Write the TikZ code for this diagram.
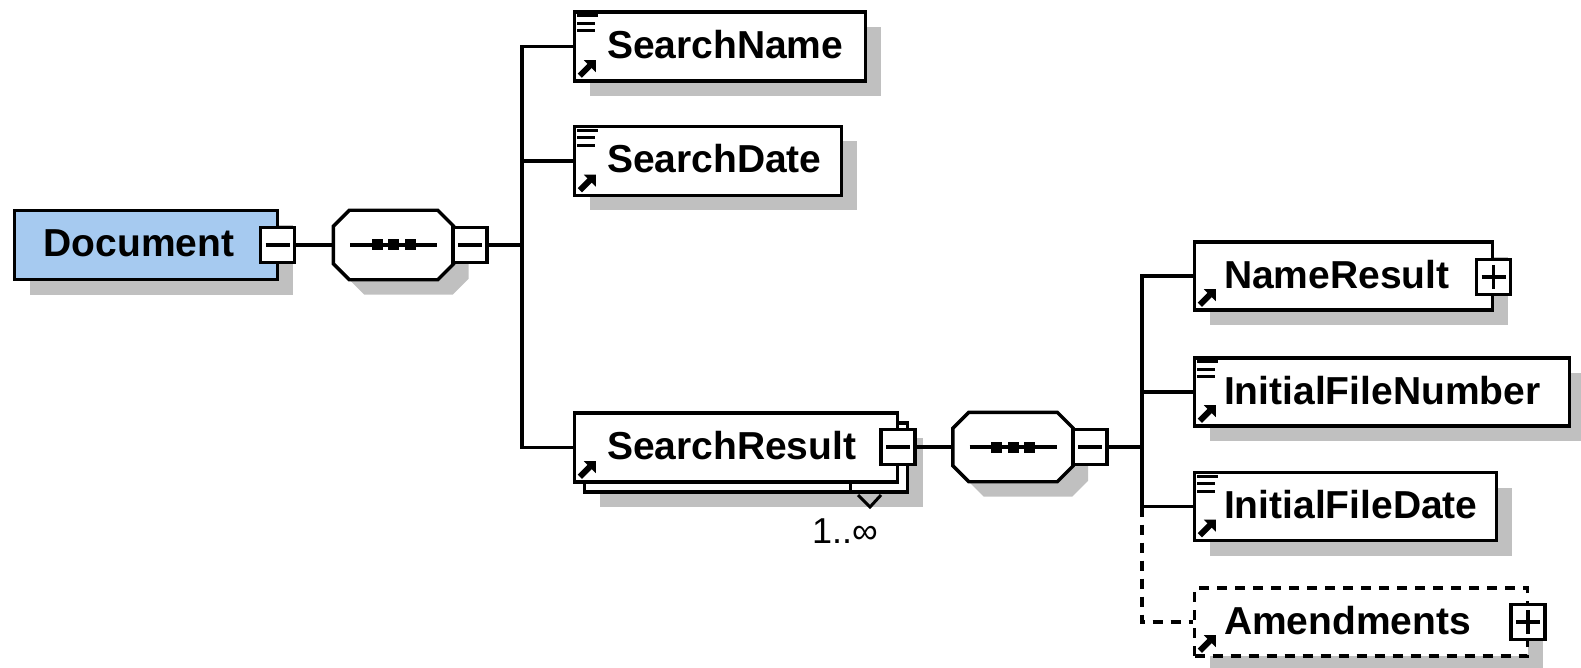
\documentclass[tikz,border=0pt]{standalone}
\usepackage{fontspec}
\setmainfont{Liberation Sans}
\usetikzlibrary{shadows,calc}
\definecolor{docblue}{RGB}{166,202,240}
\definecolor{shadowgray}{RGB}{192,192,192}
\newcommand{\btext}[3]{\makebox[#1][l]{\hspace{#2}#3}}
\newcommand{\lineicon}[1]{%
  \draw[line width=3.2pt] ($(#1.north west)+(4.5,5.5)$) -- ++(21,0);
  \draw[line width=3.2pt] ($(#1.north west)+(4.5,13)$) -- ++(18,0);
  \draw[line width=3.2pt] ($(#1.north west)+(4.5,20.5)$) -- ++(18,0);}
\newcommand{\arricon}[1]{%
  \fill ($(#1.south west)+(23,-22.5)$) -- ++(0,12) -- ++(-12,-12) -- cycle;
  \draw[line width=6pt] ($(#1.south west)+(7,-7)$) -- ++(10,-10);}
\newcommand{\minusg}[1]{\draw[line width=3.2pt] ($(#1.center)+(-12,0)$) -- ($(#1.center)+(12,0)$);}
\newcommand{\plusg}[1]{\minusg{#1}\draw[line width=3.2pt] ($(#1.center)+(0,-12)$) -- ($(#1.center)+(0,12)$);}
\newcommand{\seqglyph}[1]{%
  \draw[line width=3.2pt] ($(#1.center)+(-43.5,0)$) -- ($(#1.center)+(43.5,0)$);
  \foreach \dx in {-16.5,0,16.5} \fill ($(#1.center)+(\dx-5.5,-5.5)$) rectangle ++(11,11);}
\newcommand{\octagon}[1]{%
  \fill[shadowgray] ($(#1.north west)+(31,15)$) -- ($(#1.north east)+(-1,15)$) -- ($(#1.north east)+(15,31)$) -- ($(#1.south east)+(15,-1)$) -- ($(#1.south east)+(-1,15)$) -- ($(#1.south west)+(31,15)$) -- ($(#1.south west)+(15,-1)$) -- ($(#1.north west)+(15,31)$) -- cycle;
  \draw[line width=3.4pt,fill=white] ($(#1.north west)+(16,0)$) -- ($(#1.north east)+(-16,0)$) -- ($(#1.north east)+(0,16)$) -- ($(#1.south east)+(0,-16)$) -- ($(#1.south east)+(-16,0)$) -- ($(#1.south west)+(16,0)$) -- ($(#1.south west)+(0,-16)$) -- ($(#1.north west)+(0,16)$) -- cycle;
  \seqglyph{#1}}
\begin{document}
\begin{tikzpicture}[x=1pt,y=-1pt,
  conn/.style={line width=3.8pt},
  dashconn/.style={line width=3.8pt, dash pattern=on 10pt off 8pt},
  ebase/.style={draw, line width=3.4pt, fill=white, rectangle, inner sep=0pt,
    minimum height=69pt, text height=24pt, text depth=0pt,
    font=\fontsize{39pt}{39pt}\selectfont\bfseries},
  esh/.style={ebase, general shadow={fill=shadowgray, shadow xshift=15pt, shadow yshift=-15pt}},
  pm/.style={draw, line width=3.4pt, fill=white, rectangle, inner sep=0pt,
    minimum width=34pt, minimum height=35pt},
  seqhold/.style={rectangle, inner sep=0pt, minimum width=120pt, minimum height=69pt}
]
\useasboundingbox (0,0) rectangle (1581,668);

% Document and first sequence
\node[esh, fill=docblue] (doc) at (146,245) {\btext{263pt}{29pt}{Document}};
\node[seqhold] (seq1) at (393.5,245) {};
\octagon{seq1}
\node[pm] (docm) at (277.5,245) {};
\minusg{docm}
\node[pm] (seq1m) at (470,245) {};
\minusg{seq1m}

% children of Document
\node[esh] (sname) at (720,46.5) {\btext{291pt}{32.5pt}{SearchName}};
\lineicon{sname}\arricon{sname}
\node[esh] (sdate) at (708,161) {\btext{267pt}{32.5pt}{SearchDate}};
\lineicon{sdate}\arricon{sdate}
\node[esh, minimum width=323pt] (sresb) at (746,457.5) {};
\node[ebase] (sres) at (736,447.5) {\btext{323pt}{32.5pt}{SearchResult}};
\arricon{sres}
\draw[line width=3pt] (850,484) -- (850,494);
\draw[line width=3pt] (858,495) -- (870,507) -- (881,495);
\node[pm] (sresm) at (898,447) {};
\minusg{sresm}
\node[font=\fontsize{36pt}{36pt}\selectfont, anchor=base, inner sep=0pt] (mult) at (845,543) {1..∞};

% second sequence
\node[seqhold] (seq2) at (1013,447) {};
\octagon{seq2}
\node[pm] (seq2m) at (1090,447) {};
\minusg{seq2m}

% children of SearchResult
\node[esh, minimum height=68pt] (nres) at (1343.5,276) {\btext{298pt}{29.5pt}{NameResult}};
\arricon{nres}
\node[pm] (nresp) at (1493.5,277) {};
\plusg{nresp}
\node[esh, minimum height=68pt] (ifn) at (1382,392) {\btext{375pt}{29.5pt}{InitialFileNumber}};
\lineicon{ifn}\arricon{ifn}
\node[esh, minimum height=68pt] (ifd) at (1345.5,506.5) {\btext{302pt}{29.5pt}{InitialFileDate}};
\lineicon{ifd}\arricon{ifd}
\node[esh, minimum height=68pt, dash pattern=on 10pt off 8pt] (amd) at (1361,622) {\btext{333pt}{29.5pt}{Amendments}};
\arricon{amd}
\node[pm] (amdp) at (1528,622) {};
\plusg{amdp}

% connectors
\coordinate (t1) at (522,245);
\coordinate (t2) at (1142,447);
\draw[conn] (docm.east) -- (seq1.west);
\draw[conn] (seq1m.east) -- (t1);
\draw[conn] (t1) |- (sname.west);
\draw[conn] (t1) |- (sdate.west);
\draw[conn] (t1) |- (sres.west);
\draw[conn] (sresm.east) -- (seq2.west);
\draw[conn] (seq2m.east) -- (t2);
\draw[conn] (t2) |- (nres.west);
\draw[conn] (t2) |- (ifn.west);
\draw[conn] (t2) |- (ifd.west);
\draw[dashconn] (ifd.west -| t2) |- (amd.west);
\end{tikzpicture}
\end{document}
